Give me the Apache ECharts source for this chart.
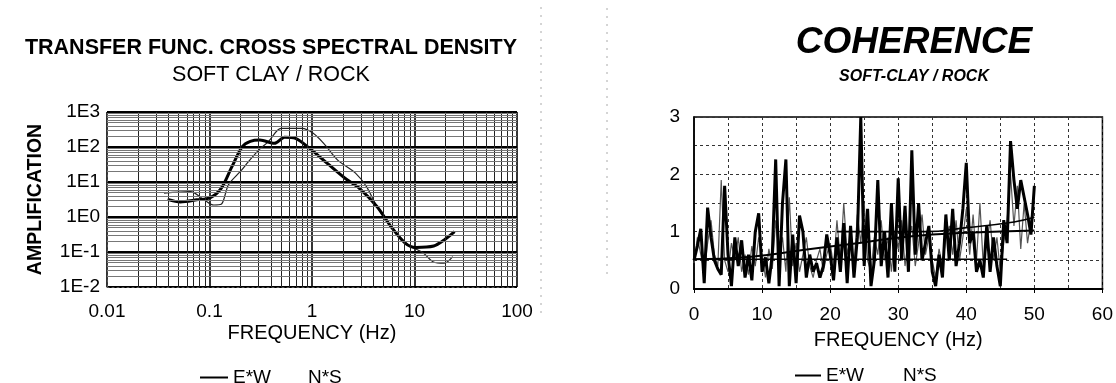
<!DOCTYPE html>
<html><head><meta charset="utf-8">
<script src="https://cdn.jsdelivr.net/npm/echarts@6/dist/echarts.min.js"></script>
<style>html,body{margin:0;padding:0;background:#fff}#c{width:1116px;height:383px}</style>
</head><body><div id="c"></div>
<script>
// ---------- Transfer function (left) ----------
const tfFreqEW = [0.039,0.052,0.075,0.102,0.13,0.165,0.209,0.25,0.31,0.43,0.54,0.69,0.95,1.41,2.1,2.9,4.3,5.9,8.1,10.3,15.4,19.5,24.6];
const tfAmpEW  = [3.2,2.7,3.1,3.6,6.6,27,102,145,158,127,190,177,91,34,12.8,6.6,2.0,0.53,0.18,0.135,0.148,0.22,0.38];
const tfFreqNS = [0.036,0.065,0.09,0.11,0.13,0.153,0.2,0.24,0.3,0.375,0.5,0.8,1.02,1.3,1.78,2.67,3.4,4.3,5.9,8.7,12.1,15.3,19.5,23.6];
const tfAmpNS  = [4.8,5.3,3.0,2.2,2.3,8.3,20,38,80,142,342,342,250,127,42,17.7,7.4,2.0,0.53,0.16,0.095,0.052,0.048,0.074];
const ampTickLabels  = ['1E-2','1E-1','1E0','1E1','1E2','1E3'];
const freqTickLabels = ['0.01','0.1','1','10','100'];

// ---------- Coherence (right) ----------
const cohFreq = Array.from({length: 101}, (_, i) => i * 0.5);
const cohEW = [0.5,0.75,1.05,0.1,1.42,0.9,0.5,0.35,0.25,1.8,0.6,0.05,0.9,0.4,0.85,0.2,0.6,0.15,1.0,1.32,
  0.3,0.55,0.1,0.6,2.26,0.05,1.5,2.26,0.05,0.95,0.1,1.28,1.0,0.2,0.6,0.3,0.45,0.2,0.4,0.95,
  0.6,0.15,0.9,0.3,1.15,0.1,1.1,0.2,0.9,3.0,0.4,1.4,0.05,0.5,1.9,0.4,1.0,0.2,1.5,0.3,
  1.93,0.5,1.45,0.3,2.42,0.6,1.5,0.5,0.8,1.1,0.3,0.05,0.6,0.2,1.3,0.5,1.4,0.4,0.8,1.4,
  2.2,0.8,1.0,0.3,0.5,0.2,1.1,0.3,0.9,0.4,0.05,1.2,0.8,2.58,1.9,1.4,1.9,1.6,1.3,0.95,1.8];
const cohNS = [0.45,0.9,0.6,0.3,0.8,1.2,0.6,0.4,1.9,0.5,0.3,0.8,0.5,0.9,0.3,0.6,0.25,0.75,0.4,0.9,
  0.6,0.2,0.7,0.35,1.2,0.6,0.9,0.3,1.6,0.4,0.8,0.3,0.6,0.9,0.4,0.2,0.5,0.7,0.3,0.6,
  0.8,0.4,1.2,0.5,1.5,0.6,0.9,0.4,1.3,0.8,1.5,0.5,0.3,0.9,0.6,1.2,0.5,0.9,0.3,1.0,
  0.7,1.2,0.4,0.9,1.1,0.4,0.8,1.3,0.6,0.9,0.5,0.2,0.7,0.4,0.9,1.1,0.6,1.2,0.5,0.9,
  1.4,0.6,1.3,0.5,1.5,0.4,0.8,1.2,0.5,0.9,0.3,0.8,1.2,2.0,1.1,1.8,0.7,1.5,0.8,1.2,1.6];
const trendEW   = [[0,0.52],[8,0.56],[16,0.68],[24,0.8],[32,0.92],[40,0.98],[50,1.02]];
const trendNS   = [[0,0.52],[46,0.52]];
const trendHigh = [[21,1.0],[34,1.0],[40,1.07],[47,1.17],[50,1.25]];
const cohXTicks = [0,10,20,30,40,50,60];
const cohYTicks = [0,1,2,3];

const FONT = 'Liberation Sans, Arial, Helvetica, sans-serif';
const zip = (a, b) => a.map((v, i) => [v, b[i]]);

// minor log grid positions (2..9 within each decade)
function logMinors(fromExp, toExp) {
  const out = [];
  for (let e = fromExp; e < toExp; e++) for (let m = 2; m <= 9; m++) out.push(+(m * Math.pow(10, e)).toPrecision(3));
  return out;
}
const xMinor = logMinors(-2, 2), yMinor = logMinors(-2, 3);

const chart = echarts.init(document.getElementById('c'), null, {renderer: 'canvas'});
const option = {
  backgroundColor: '#fff',
  animation: false,
  title: [
    {text: 'TRANSFER FUNC. CROSS SPECTRAL DENSITY', left: 271, top: 48, textAlign: 'center', textVerticalAlign: 'middle', padding: 0,
     textStyle: {fontFamily: FONT, fontSize: 21.5, fontWeight: 'bold', color: '#000'}},
    {text: 'SOFT CLAY / ROCK', left: 271, top: 75, textAlign: 'center', textVerticalAlign: 'middle', padding: 0,
     textStyle: {fontFamily: FONT, fontSize: 21.5, fontWeight: 'normal', color: '#000'}},
    {text: 'COHERENCE', left: 914, top: 43, textAlign: 'center', textVerticalAlign: 'middle', padding: 0,
     textStyle: {fontFamily: FONT, fontSize: 37, fontWeight: 'bold', fontStyle: 'italic', color: '#000'}},
    {text: 'SOFT-CLAY / ROCK', left: 914, top: 77, textAlign: 'center', textVerticalAlign: 'middle', padding: 0,
     textStyle: {fontFamily: FONT, fontSize: 16, fontWeight: 'bold', fontStyle: 'italic', color: '#000'}}
  ],
  legend: [
    {left: 200, top: 368, padding: 0, itemWidth: 28, itemHeight: 14, itemGap: 4, icon: 'path://M0,6H28V8H0Z',
     textStyle: {fontFamily: FONT, fontSize: 19, color: '#000'},
     data: [{name: 'E*W'}, {name: 'N*S', itemStyle: {opacity: 0}}]},
    {left: 795, top: 366, padding: 0, itemWidth: 26, itemHeight: 14, itemGap: 8, icon: 'path://M0,6H26V8H0Z',
     textStyle: {fontFamily: FONT, fontSize: 19, color: '#000'},
     data: [{name: 'E*W'}, {name: 'N*S', itemStyle: {opacity: 0}}]}
  ],
  grid: [
    {left: 107, top: 112, width: 410, height: 175, show: false},
    {left: 694, top: 117, width: 410, height: 172, show: true, borderColor: '#000', borderWidth: 1.5, backgroundColor: 'transparent'}
  ],
  xAxis: [
    {type: 'log', gridIndex: 0, min: 0.01, max: 100, logBase: 10, splitNumber: 4,
     name: 'FREQUENCY (Hz)', nameLocation: 'middle', nameGap: 36,
     nameTextStyle: {fontFamily: FONT, fontSize: 20, color: '#000'},
     axisLine: {show: true, lineStyle: {color: '#555', width: 1, type: [2, 3]}},
     axisTick: {show: false},
     axisLabel: {fontFamily: FONT, fontSize: 19, color: '#000', margin: 15,
       formatter: v => freqTickLabels[Math.round(Math.log10(v)) + 2]},
     splitLine: {show: true, lineStyle: {color: '#000', width: 1.6}}},
    {type: 'value', gridIndex: 1, min: 0, max: 60, interval: 10,
     name: 'FREQUENCY (Hz)', nameLocation: 'middle', nameGap: 41,
     nameTextStyle: {fontFamily: FONT, fontSize: 20, color: '#000'},
     axisLine: {show: true, lineStyle: {color: '#000', width: 2}},
     axisTick: {show: true, length: 4, inside: false, lineStyle: {color: '#000'}},
     axisLabel: {fontFamily: FONT, fontSize: 19, color: '#000', margin: 16,
       formatter: v => String(cohXTicks[cohXTicks.indexOf(v)])},
     minorTick: {show: false, splitNumber: 2},
     splitLine: {show: true, lineStyle: {color: '#333', width: 1, type: [3, 3]}},
     minorSplitLine: {show: true, lineStyle: {color: '#333', width: 1, type: [3, 3]}}}
  ],
  yAxis: [
    {type: 'log', gridIndex: 0, min: 0.01, max: 1000, logBase: 10, splitNumber: 5,
     name: 'AMPLIFICATION', nameLocation: 'middle', nameGap: 61, nameRotate: 90,
     nameTextStyle: {fontFamily: FONT, fontSize: 19.5, fontWeight: 'bold', color: '#000'},
     axisLine: {show: true, lineStyle: {color: '#555', width: 1, type: [2, 3]}},
     axisTick: {show: false},
     axisLabel: {fontFamily: FONT, fontSize: 19, color: '#000', margin: 7,
       formatter: v => ampTickLabels[Math.round(Math.log10(v)) + 2]},
     splitLine: {show: true, lineStyle: {color: '#000', width: 2.2}}},
    {type: 'value', gridIndex: 1, min: 0, max: 3, interval: 1,
     axisLine: {show: true, lineStyle: {color: '#000', width: 1.5}},
     axisTick: {show: false},
     axisLabel: {fontFamily: FONT, fontSize: 19, color: '#000', margin: 14,
       formatter: v => String(cohYTicks[cohYTicks.indexOf(v)])},
     minorTick: {show: false, splitNumber: 2},
     splitLine: {show: true, lineStyle: {color: '#333', width: 1, type: [3, 3]}},
     minorSplitLine: {show: true, lineStyle: {color: '#333', width: 1, type: [3, 3]}}}
  ],
  graphic: [
    {type: 'line', shape: {x1: 541, y1: 7, x2: 541, y2: 317}, style: {stroke: '#aaa', lineWidth: 1, lineDash: [2, 6]}, silent: true},
    {type: 'line', shape: {x1: 607, y1: 8, x2: 607, y2: 277}, style: {stroke: '#aaa', lineWidth: 1, lineDash: [2, 6]}, silent: true}
  ],
  series: [
    // minor log grid (left chart)
    {type: 'line', name: 'grid', xAxisIndex: 0, yAxisIndex: 0, data: [], z: 1, silent: true,
     markLine: {silent: true, symbol: 'none', animation: false, label: {show: false},
       data: [
         ...xMinor.map(v => ({xAxis: v, lineStyle: {color: '#222', width: 1, type: 'solid'}})),
         ...yMinor.map(v => ({yAxis: v, lineStyle: {color: '#777', width: 1, type: 'solid'}}))
       ]}},
    {type: 'line', name: 'N*S', xAxisIndex: 0, yAxisIndex: 0, data: zip(tfFreqNS, tfAmpNS), z: 3,
     symbol: 'none', smooth: 0.3, lineStyle: {color: '#222', width: 1.2}, itemStyle: {color: '#222'}},
    {type: 'line', name: 'E*W', xAxisIndex: 0, yAxisIndex: 0, data: zip(tfFreqEW, tfAmpEW), z: 4,
     symbol: 'none', smooth: 0.3, lineStyle: {color: '#000', width: 3}, itemStyle: {color: '#000'}},

    {type: 'line', name: 'N*S', xAxisIndex: 1, yAxisIndex: 1, data: zip(cohFreq, cohNS), z: 3,
     symbol: 'none', lineStyle: {color: '#555', width: 1.2}, itemStyle: {color: '#555'}},
    {type: 'line', name: 'E*W', xAxisIndex: 1, yAxisIndex: 1, data: zip(cohFreq, cohEW), z: 4,
     symbol: 'none', lineStyle: {color: '#000', width: 3}, itemStyle: {color: '#000'}},
    {type: 'line', name: 'trend E*W', xAxisIndex: 1, yAxisIndex: 1, data: trendEW, z: 5,
     symbol: 'none', smooth: true, lineStyle: {color: '#000', width: 2}},
    {type: 'line', name: 'trend N*S', xAxisIndex: 1, yAxisIndex: 1, data: trendNS, z: 5,
     symbol: 'none', lineStyle: {color: '#000', width: 1.6}},
    {type: 'line', name: 'trend high', xAxisIndex: 1, yAxisIndex: 1, data: trendHigh, z: 5,
     symbol: 'none', smooth: true, lineStyle: {color: '#000', width: 1.6}}
  ]
};
chart.setOption(option);
</script>
</body></html>
